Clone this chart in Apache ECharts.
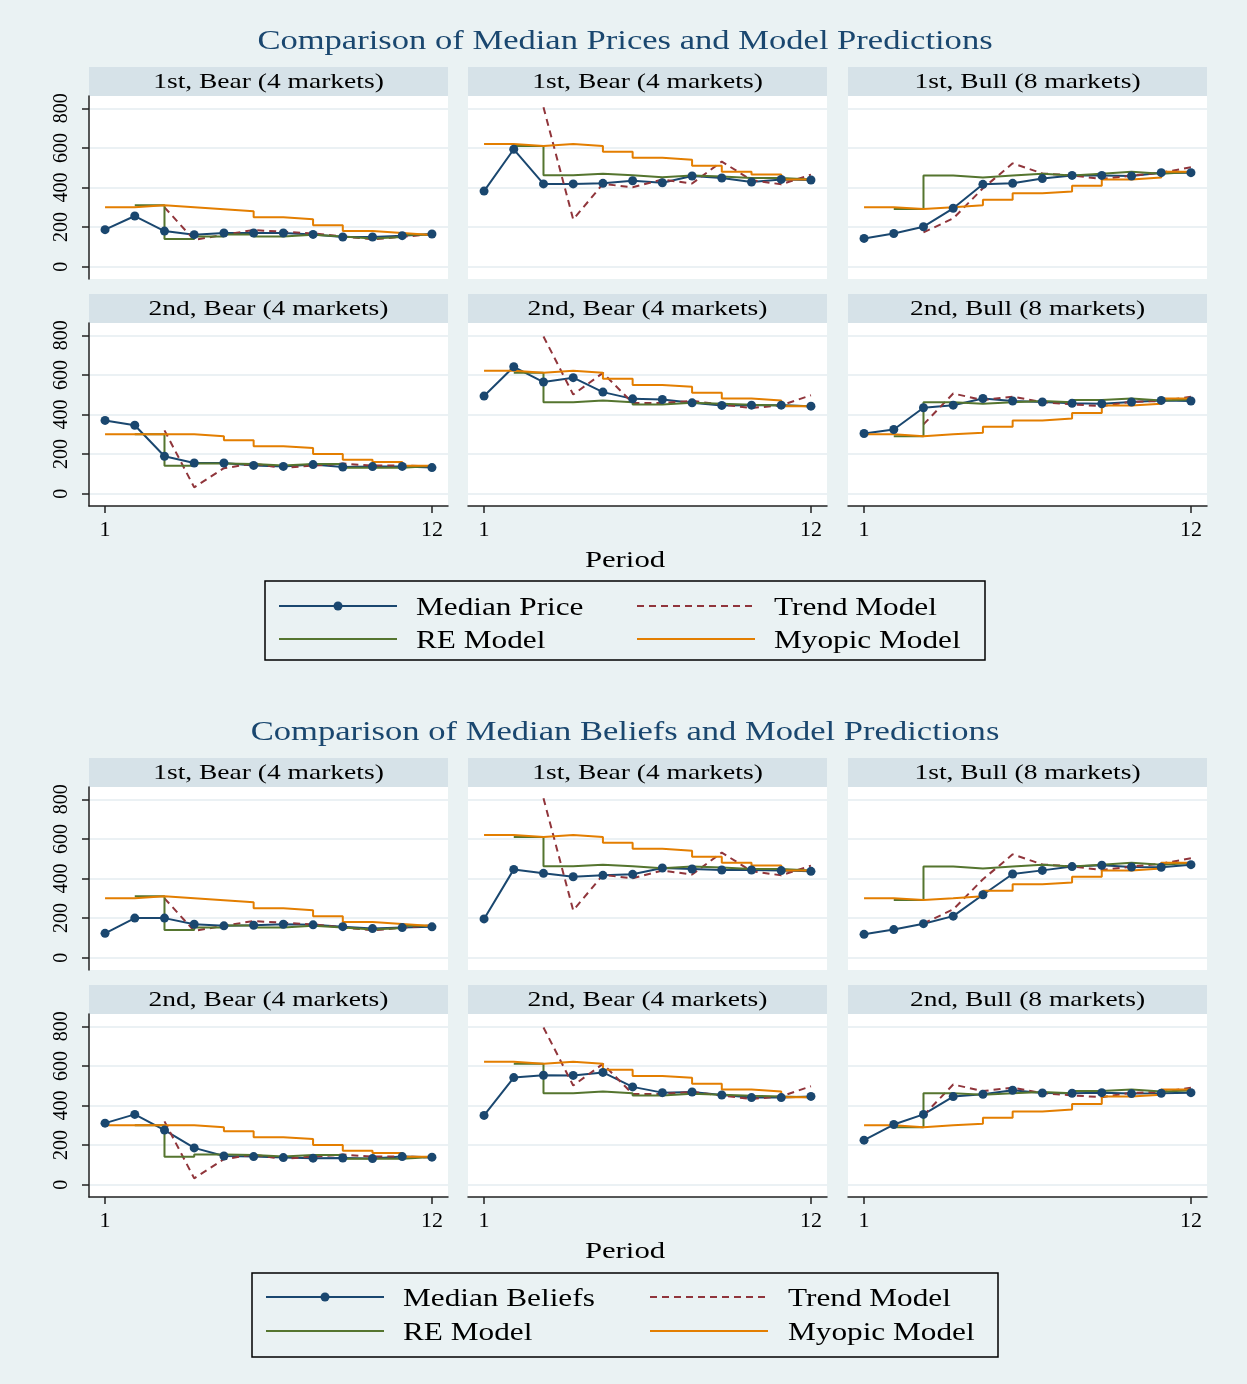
<!DOCTYPE html>
<html lang="en">
<head>
<meta charset="utf-8">
<title>Median prices / beliefs and model predictions</title>
<script src="https://cdn.jsdelivr.net/npm/echarts@6/dist/echarts.min.js"></script>
<style>
  html, body { margin: 0; padding: 0; background: #eaf2f3; }
  #chart { width: 1247px; height: 1384px; }
</style>
</head>
<body>
<div id="chart"></div>
<script>
var periods = [1, 2, 3, 4, 5, 6, 7, 8, 9, 10, 11, 12];
var xTicks = [1, 12];
var yTicks = [0, 200, 400, 600, 800];
var panelTitles = ['1st, Bear (4 markets)', '1st, Bear (4 markets)', '1st, Bull (8 markets)',
                   '2nd, Bear (4 markets)', '2nd, Bear (4 markets)', '2nd, Bull (8 markets)'];
var figTitles = ['Comparison of Median Prices and Model Predictions',
                 'Comparison of Median Beliefs and Model Predictions'];
var medianNames = ['Median Price', 'Median Beliefs'];

// median prices (top figure), panels A-F
var priceA = [187, 256, 180, 162, 170, 170, 170, 163, 150, 150, 157, 165];
var priceB = [382, 593, 418, 418, 421, 434, 424, 458, 448, 428, 441, 438];
var priceC = [143, 168, 202, 295, 416, 421, 445, 461, 461, 458, 475, 475];
var priceD = [370, 346, 189, 155, 155, 143, 138, 147, 135, 137, 138, 132];
var priceE = [493, 641, 564, 586, 513, 479, 476, 459, 446, 447, 447, 442];
var priceF = [304, 324, 434, 447, 481, 468, 463, 457, 454, 463, 471, 468];

// median beliefs (bottom figure)
var beliefA = [123, 200, 200, 169, 161, 164, 169, 166, 157, 147, 152, 156];
var beliefB = [196, 446, 426, 409, 416, 421, 453, 448, 443, 443, 440, 436];
var beliefC = [118, 142, 172, 210, 318, 423, 441, 460, 467, 458, 457, 470];
var beliefD = [311, 355, 276, 186, 145, 142, 137, 134, 135, 132, 142, 139];
var beliefE = [350, 541, 553, 552, 567, 494, 465, 468, 453, 440, 440, 446];
var beliefF = [225, 304, 355, 445, 457, 477, 463, 462, 465, 460, 462, 465];

// model predictions (same in both figures)
var trendA = [null, null, 300, 135, 162, 185, 177, 168, 153, 138, 151, 164];
var trendB = [null, null, 805, 239, 418, 401, 440, 420, 531, 437, 416, 465];
var trendC = [null, null, 173, 244, 396, 522, 471, 461, 443, 460, 475, 502];
var trendD = [null, null, 320, 32, 129, 152, 130, 142, 152, 142, 142, 138];
var trendE = [null, null, 794, 501, 610, 458, 458, 469, 450, 433, 446, 497];
var trendF = [null, null, 350, 506, 473, 490, 462, 451, 442, 464, 468, 490];

var reA = [null, 310, 140, 152, 163, 152, 161, 152, 142, 150, 161, 161];
var reB = [null, 610, 462, 470, 462, 452, 460, 455, 448, 448, 440, 440];
var reC = [null, 292, 461, 451, 461, 470, 461, 470, 480, 470, 478, 478];
var reD = [null, 300, 141, 152, 150, 143, 150, 150, 131, 131, 140, 140];
var reE = [null, 611, 462, 471, 462, 451, 459, 454, 449, 446, 442, 442];
var reF = [null, 290, 462, 454, 462, 468, 462, 473, 481, 471, 476, 476];

var myopicA = [300, 310, 300, 290, 280, 250, 240, 210, 180, 170, 160, 160];
var myopicB = [620, 610, 620, 610, 580, 550, 540, 510, 480, 466, 441, 441];
var myopicC = [300, 292, 300, 310, 338, 371, 380, 409, 441, 451, 479, 479];
var myopicD = [300, 300, 300, 290, 270, 240, 231, 200, 171, 160, 141, 141];
var myopicE = [621, 611, 621, 611, 581, 549, 540, 510, 481, 471, 442, 442];
var myopicF = [300, 290, 300, 308, 338, 370, 380, 408, 446, 454, 481, 481];

var medians = [[priceA, priceB, priceC, priceD, priceE, priceF],
               [beliefA, beliefB, beliefC, beliefD, beliefE, beliefF]];
var trends = [trendA, trendB, trendC, trendD, trendE, trendF];
var res = [reA, reB, reC, reD, reE, reF];
var myopics = [myopicA, myopicB, myopicC, myopicD, myopicE, myopicF];

var NAVY = '#1a476f', MAROON = '#90353b', GREEN = '#55752f', ORANGE = '#e37e00';
var SERIF = '"Liberation Serif", "Times New Roman", serif';
var AXIS = '#222';

var colLeft = [89, 468, 848], colW = 359;
var plotTops = [[96, 323], [787, 1014]], plotH = 183, stripH = 29;

function pairs(arr) {
  var out = [];
  arr.forEach(function (v, i) { if (v != null) out.push([periods[i], v]); });
  return out;
}
function txt(x, y, text, size, color, align, sx) {
  return {
    type: 'text', x: x, y: y, scaleX: sx,
    style: { text: text, font: size + 'px ' + SERIF, fill: color,
             align: align, textAlign: align, verticalAlign: 'middle', textVerticalAlign: 'middle' }
  };
}

var grid = [], xAxis = [], yAxis = [], series = [], graphic = [];

for (var f = 0; f < 2; f++) {
  graphic.push(txt(625, f ? 733 : 42, figTitles[f], 27, NAVY, 'center', 1.28));
  graphic.push(txt(625, f ? 1252 : 561, 'Period', 24, '#000', 'center', 1.28));
  for (var r = 0; r < 2; r++) {
    for (var c = 0; c < 3; c++) {
      var p = r * 3 + c, g = f * 6 + p, pTop = plotTops[f][r];
      grid.push({ left: colLeft[c], top: pTop, width: colW, height: plotH,
                  show: true, backgroundColor: '#fff', borderWidth: 0 });
      graphic.push({ type: 'rect',
                     shape: { x: colLeft[c], y: pTop - stripH, width: colW, height: stripH },
                     style: { fill: '#d6e2e8' } });
      graphic.push(txt(colLeft[c] + colW / 2, pTop - stripH / 2 + 1, panelTitles[p], 22, '#000', 'center', 1.25));
      xAxis.push({
        type: 'value', gridIndex: g, min: 0.46, max: 12.54,
        axisLine: { show: r === 1, onZero: false, lineStyle: { color: AXIS, width: 1.5 } },
        axisTick: { show: r === 1, customValues: xTicks, length: 7, lineStyle: { color: AXIS, width: 1.5 } },
        axisLabel: { show: r === 1, customValues: xTicks, margin: 13, color: '#000',
                     fontFamily: SERIF, fontSize: 22 },
        splitLine: { show: false }
      });
      yAxis.push({
        type: 'value', gridIndex: g, min: -62, max: 862,
        axisLine: { show: c === 0, onZero: false, lineStyle: { color: AXIS, width: 1.5 } },
        axisTick: { show: c === 0, customValues: yTicks, length: 7, lineStyle: { color: AXIS, width: 1.5 } },
        axisLabel: { show: c === 0, customValues: yTicks, rotate: 90, margin: 17, color: '#000',
                     fontFamily: SERIF, fontSize: 20 },
        splitLine: { show: true, lineStyle: { color: '#e4ecf0', width: 1.5 } }
      });
      series.push({
        name: medianNames[f], type: 'line', xAxisIndex: g, yAxisIndex: g,
        data: pairs(medians[f][p]), symbol: 'circle', symbolSize: 9,
        lineStyle: { color: NAVY, width: 2 }, itemStyle: { color: NAVY }
      });
      series.push({
        name: 'Trend Model', type: 'line', xAxisIndex: g, yAxisIndex: g,
        data: pairs(trends[p]), symbol: 'none',
        lineStyle: { color: MAROON, width: 2, type: [7, 5] }
      });
      series.push({
        name: 'RE Model', type: 'line', xAxisIndex: g, yAxisIndex: g, step: 'end',
        data: pairs(res[p]), symbol: 'none', lineStyle: { color: GREEN, width: 2 }
      });
      series.push({
        name: 'Myopic Model', type: 'line', xAxisIndex: g, yAxisIndex: g, step: 'end',
        data: pairs(myopics[p]), symbol: 'none', lineStyle: { color: ORANGE, width: 2 }
      });
    }
  }
}

// legend boxes (keys + labels)
var legendBoxes = [
  { box: [265, 581, 720, 79], rows: [606, 639], keyX: [279, 637], textX: [416, 774] },
  { box: [252, 1273, 746, 84], rows: [1297, 1331], keyX: [266, 650], textX: [403, 788] }
];
legendBoxes.forEach(function (lg, fi) {
  graphic.push({ type: 'rect', shape: { x: lg.box[0], y: lg.box[1], width: lg.box[2], height: lg.box[3] },
                 style: { fill: 'none', stroke: '#000', lineWidth: 1.5 } });
  var items = [
    { name: medianNames[fi], color: NAVY, dot: true, row: 0, col: 0 },
    { name: 'Trend Model', color: MAROON, dashed: true, row: 0, col: 1 },
    { name: 'RE Model', color: GREEN, row: 1, col: 0 },
    { name: 'Myopic Model', color: ORANGE, row: 1, col: 1 }
  ];
  items.forEach(function (it) {
    var y = lg.rows[it.row], x = lg.keyX[it.col];
    var st = { stroke: it.color, lineWidth: 2 };
    if (it.dashed) st.lineDash = [7, 5];
    graphic.push({ type: 'line', shape: { x1: x, y1: y, x2: x + 118, y2: y }, style: st });
    if (it.dot) {
      graphic.push({ type: 'circle', shape: { cx: x + 59, cy: y, r: 4.5 }, style: { fill: it.color } });
    }
    graphic.push(txt(lg.textX[it.col], y + 2, it.name, 25, '#000', 'left', 1.25));
  });
});

var chart = echarts.init(document.getElementById('chart'));
chart.setOption({
  backgroundColor: '#eaf2f3',
  animation: false,
  grid: grid,
  xAxis: xAxis,
  yAxis: yAxis,
  series: series,
  graphic: graphic
});
</script>
</body>
</html>
